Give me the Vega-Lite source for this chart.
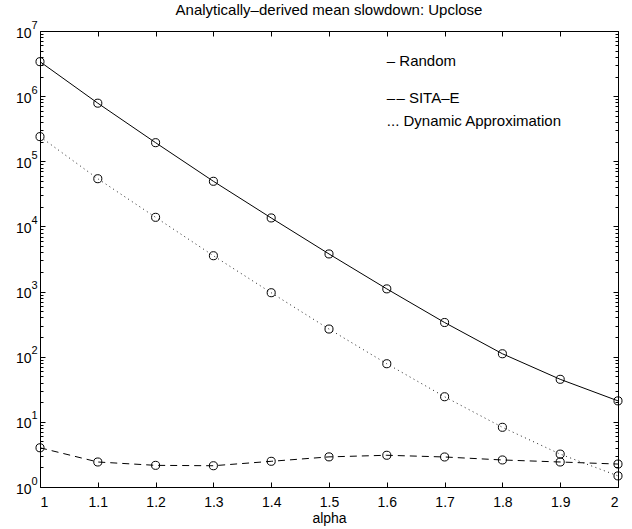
{
  "$schema": "https://vega.github.io/schema/vega-lite/v6.json",
  "width": 578,
  "height": 456,
  "autosize": {"type": "none"},
  "padding": {"left": 40, "top": 31, "right": 14, "bottom": 42},
  "title": {"text": "Analytically–derived mean slowdown: Upclose", "fontSize": 15, "fontWeight": "normal", "font": "Liberation Sans", "color": "black", "anchor": "middle", "offset": 1},
  "config": {
    "view": {"stroke": "black", "strokeWidth": 1},
    "font": "Liberation Sans",
    "axis": {"grid": false, "domain": false, "tickColor": "black", "labelColor": "black", "titleColor": "black", "labelFont": "Liberation Sans", "labelFontSize": 14, "titleFont": "Liberation Sans", "titleFontSize": 14, "titleFontWeight": "normal", "tickWidth": 1}
  },
  "datasets": {
    "series": [
      {"series": "Random", "alpha": 1.0, "value": 3380000},
      {"series": "Random", "alpha": 1.1, "value": 780000},
      {"series": "Random", "alpha": 1.2, "value": 193000},
      {"series": "Random", "alpha": 1.3, "value": 49300},
      {"series": "Random", "alpha": 1.4, "value": 13500},
      {"series": "Random", "alpha": 1.5, "value": 3780},
      {"series": "Random", "alpha": 1.6, "value": 1100},
      {"series": "Random", "alpha": 1.7, "value": 335},
      {"series": "Random", "alpha": 1.8, "value": 111},
      {"series": "Random", "alpha": 1.9, "value": 45},
      {"series": "Random", "alpha": 2.0, "value": 21},
      {"series": "SITA-E", "alpha": 1.0, "value": 4.0},
      {"series": "SITA-E", "alpha": 1.1, "value": 2.42},
      {"series": "SITA-E", "alpha": 1.2, "value": 2.15},
      {"series": "SITA-E", "alpha": 1.3, "value": 2.12},
      {"series": "SITA-E", "alpha": 1.4, "value": 2.48},
      {"series": "SITA-E", "alpha": 1.5, "value": 2.9},
      {"series": "SITA-E", "alpha": 1.6, "value": 3.07},
      {"series": "SITA-E", "alpha": 1.7, "value": 2.89},
      {"series": "SITA-E", "alpha": 1.8, "value": 2.6},
      {"series": "SITA-E", "alpha": 1.9, "value": 2.42},
      {"series": "SITA-E", "alpha": 2.0, "value": 2.25},
      {"series": "Dynamic", "alpha": 1.0, "value": 239000},
      {"series": "Dynamic", "alpha": 1.1, "value": 54000},
      {"series": "Dynamic", "alpha": 1.2, "value": 13800},
      {"series": "Dynamic", "alpha": 1.3, "value": 3550},
      {"series": "Dynamic", "alpha": 1.4, "value": 960},
      {"series": "Dynamic", "alpha": 1.5, "value": 266},
      {"series": "Dynamic", "alpha": 1.6, "value": 78},
      {"series": "Dynamic", "alpha": 1.7, "value": 24.3},
      {"series": "Dynamic", "alpha": 1.8, "value": 8.25},
      {"series": "Dynamic", "alpha": 1.9, "value": 3.2},
      {"series": "Dynamic", "alpha": 2.0, "value": 1.48}
    ],
    "labels": [
      {"label": "– Random", "alpha": 1.6, "value": 3470000},
      {"label": "–\u200a– SITA–E", "alpha": 1.6, "value": 937000},
      {"label": "... Dynamic Approximation", "alpha": 1.6, "value": 416000}
    ]
  },
  "resolve": {"axis": {"x": "independent", "y": "independent"}},
  "layer": [
    {
      "data": {"name": "series"},
      "transform": [{"filter": "datum.series === 'Random'"}],
      "mark": {"type": "line", "color": "black", "strokeWidth": 1},
      "encoding": {
        "x": {"field": "alpha", "type": "quantitative", "scale": {"domain": [1, 2], "nice": false, "zero": false},
          "axis": {"orient": "bottom", "values": [1, 1.1, 1.2, 1.3, 1.4, 1.5, 1.6, 1.7, 1.8, 1.9, 2], "format": "~g", "tickSize": -5, "labelPadding": 13, "title": "alpha", "titlePadding": 2}},
        "y": {"field": "value", "type": "quantitative", "scale": {"type": "log", "domain": [1, 10000000], "nice": false},
          "axis": {"orient": "left", "values": [1, 10, 100, 1000, 10000, 100000, 1000000, 10000000], "labelExpr": "'10'", "tickSize": -5, "labelPadding": 14, "labelOffset": 2, "title": null}}
      }
    },
    {
      "data": {"name": "series"},
      "transform": [{"filter": "datum.series === 'SITA-E'"}],
      "mark": {"type": "line", "color": "black", "strokeWidth": 1, "strokeDash": [7, 5]},
      "encoding": {
        "x": {"field": "alpha", "type": "quantitative", "scale": {"domain": [1, 2], "nice": false, "zero": false},
          "axis": {"orient": "top", "values": [1, 1.1, 1.2, 1.3, 1.4, 1.5, 1.6, 1.7, 1.8, 1.9, 2], "labels": false, "tickSize": -5, "title": null}},
        "y": {"field": "value", "type": "quantitative", "scale": {"type": "log", "domain": [1, 10000000], "nice": false},
          "axis": {"orient": "left", "values": [1, 10, 100, 1000, 10000, 100000, 1000000, 10000000], "labelExpr": "format(round(log(datum.value)/LN10), 'd')", "ticks": false, "labelFontSize": 11, "labelPadding": 3, "labelOffset": -6, "title": null}}
      }
    },
    {
      "data": {"name": "series"},
      "transform": [{"filter": "datum.series === 'Dynamic'"}],
      "mark": {"type": "line", "color": "#222222", "strokeWidth": 1, "strokeDash": [1, 3.5]},
      "encoding": {
        "x": {"field": "alpha", "type": "quantitative", "scale": {"domain": [1, 2], "nice": false, "zero": false}, "axis": null},
        "y": {"field": "value", "type": "quantitative", "scale": {"type": "log", "domain": [1, 10000000], "nice": false},
          "axis": {"orient": "left", "values": [2,3,4,5,6,7,8,9,20,30,40,50,60,70,80,90,200,300,400,500,600,700,800,900,2000,3000,4000,5000,6000,7000,8000,9000,20000,30000,40000,50000,60000,70000,80000,90000,200000,300000,400000,500000,600000,700000,800000,900000,2000000,3000000,4000000,5000000,6000000,7000000,8000000,9000000], "labels": false, "tickSize": -3, "title": null}}
      }
    },
    {
      "data": {"name": "series"},
      "mark": {"type": "point", "shape": "circle", "filled": false, "stroke": "black", "strokeWidth": 1, "size": 65, "opacity": 1},
      "encoding": {
        "x": {"field": "alpha", "type": "quantitative", "scale": {"domain": [1, 2], "nice": false, "zero": false}, "axis": null},
        "y": {"field": "value", "type": "quantitative", "scale": {"type": "log", "domain": [1, 10000000], "nice": false},
          "axis": {"orient": "right", "values": [1, 10, 100, 1000, 10000, 100000, 1000000, 10000000], "labels": false, "tickSize": -5, "title": null}}
      }
    },
    {
      "data": {"name": "labels"},
      "mark": {"type": "text", "align": "left", "baseline": "middle", "fontSize": 15, "font": "Liberation Sans", "color": "black"},
      "encoding": {
        "x": {"field": "alpha", "type": "quantitative", "scale": {"domain": [1, 2], "nice": false, "zero": false}, "axis": null},
        "y": {"field": "value", "type": "quantitative", "scale": {"type": "log", "domain": [1, 10000000], "nice": false},
          "axis": {"orient": "right", "values": [2,3,4,5,6,7,8,9,20,30,40,50,60,70,80,90,200,300,400,500,600,700,800,900,2000,3000,4000,5000,6000,7000,8000,9000,20000,30000,40000,50000,60000,70000,80000,90000,200000,300000,400000,500000,600000,700000,800000,900000,2000000,3000000,4000000,5000000,6000000,7000000,8000000,9000000], "labels": false, "tickSize": -3, "title": null}},
        "text": {"field": "label", "type": "nominal"}
      }
    }
  ]
}
